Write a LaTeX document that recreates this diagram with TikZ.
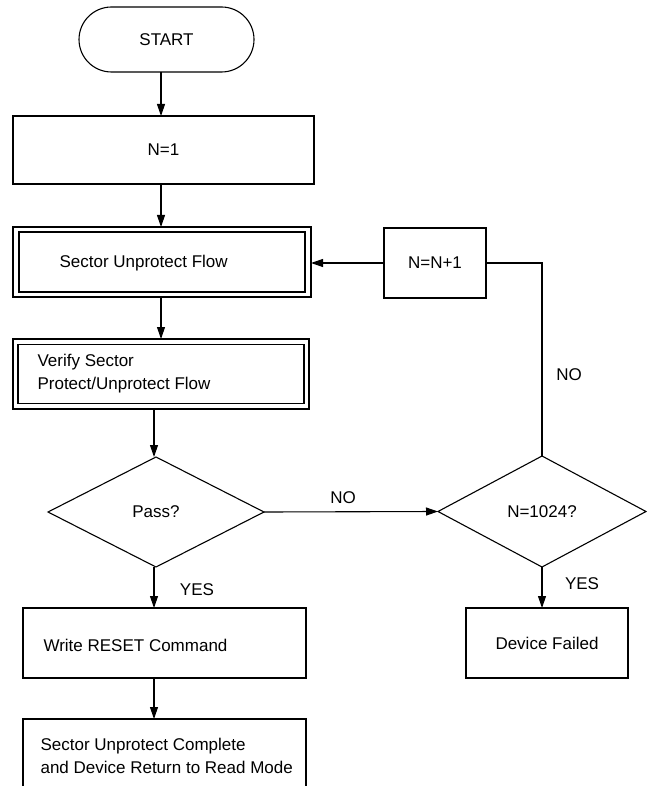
\documentclass[tikz,border=0pt]{standalone}
\usepackage{fontspec}
\setmainfont{Liberation Sans}
\usetikzlibrary{arrows.meta,shapes.geometric}
\begin{document}
\begin{tikzpicture}[x=1pt,y=-1pt,
  font=\fontsize{17}{23}\selectfont,
  line width=1.1pt,
  box/.style={draw, rectangle, inner sep=0pt, outer sep=0pt},
  dec/.style={draw, diamond, inner sep=0pt, outer sep=0pt},
  txt/.style={anchor=west, inner sep=0pt, align=left},
  lbl/.style={inner sep=0pt},
  arr/.style={-{Triangle[length=12pt,width=8pt]}},
]
\useasboundingbox (0,0) rectangle (646,786);

\node[box, rounded corners=32.5pt, minimum width=175, minimum height=65] (start) at (166.5,39.5) {START};
\node[box, minimum width=301, minimum height=68] (n1) at (163.5,150) {N=1};

\node[box, minimum width=298, minimum height=70] (suf) at (162,262) {};
\draw ([shift={(6pt,-5pt)}]suf.north west) rectangle ([shift={(-6pt,5pt)}]suf.south east);
\node[txt] (suft) at (59,263) {Sector Unprotect Flow};

\node[box, minimum width=296, minimum height=70] (ver) at (161,374) {};
\draw ([shift={(5pt,-5.5pt)}]ver.north west) rectangle ([shift={(-5pt,5.5pt)}]ver.south east);
\node[txt] (vert) at (37,373.5) {Verify Sector\\Protect/Unprotect Flow};

\node[dec, minimum width=216, minimum height=110] (pass) at (156,512) {Pass?};
\node[dec, minimum width=208, minimum height=111] (nchk) at (542,511.5) {N=1024?};
\node[box, minimum width=102, minimum height=70] (nn1) at (435,263) {N=N+1};

\node[box, minimum width=283, minimum height=70] (wr) at (164.5,643) {};
\node[txt] (wrt) at (43,645) {Write RESET Command};
\node[box, minimum width=283, minimum height=70] (fin) at (164.5,754) {};
\node[txt] (fint) at (40,755.5) {Sector Unprotect Complete\\and Device Return to Read Mode};
\node[box, minimum width=162, minimum height=70] (df) at (547,643) {Device Failed};

\coordinate (ax) at (161,0);
\coordinate (bx) at (154,0);

\draw[arr] (start.south -| ax) -- (n1.north -| ax);
\draw[arr] (n1.south -| ax) -- (suf.north -| ax);
\draw[arr] (suf.south -| ax) -- (ver.north -| ax);
\draw[arr] (ver.south -| bx) -- (pass.north -| bx);
\draw[arr] (pass.south -| bx) -- (wr.north -| bx);
\draw[arr] (wr.south -| bx) -- (fin.north -| bx);
\draw[arr] (pass.east) -- (nchk.west);
\draw[arr] (nchk.south) -- (df.north -| nchk.south);
\draw (nchk.north) |- (nn1.east);
\draw[arr] (nn1.west) -- (suf.east |- nn1.west);

\node[lbl] (no1) at (343,498) {NO};
\node[lbl] (no2) at (569,375) {NO};
\node[lbl] (yes1) at (197,590) {YES};
\node[lbl] (yes2) at (582,584) {YES};
\end{tikzpicture}
\end{document}
